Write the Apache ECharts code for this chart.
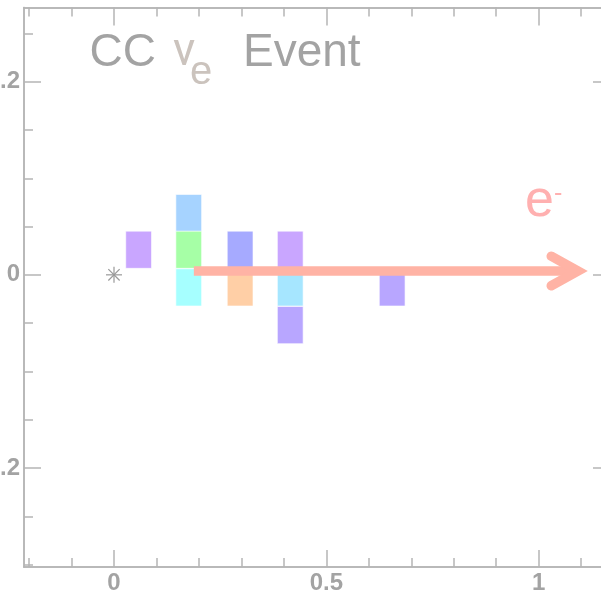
<!DOCTYPE html>
<html><head><meta charset="utf-8">
<script src="https://cdn.jsdelivr.net/npm/echarts@6/dist/echarts.min.js"></script>
<style>html,body{margin:0;padding:0;background:#fff;}#c{width:601px;height:595px;}</style>
</head><body><div id="c"></div>
<script>
// ---- data ----
const xRange = [-0.2119, 1.1679];
const yRange = [-0.3025, 0.2768];
const xMajorTicks = [0, 0.5, 1];
const xMinorTicks = [-0.2, -0.1, 0.1, 0.2, 0.3, 0.4, 0.6, 0.7, 0.8, 0.9, 1.1];
const yMajorTicks = [-0.2, 0, 0.2];
const yMinorTicks = [-0.3, -0.25, -0.15, -0.1, -0.05, 0.05, 0.1, 0.15, 0.25];
const cellX = [0.058, 0.176, 0.176, 0.176, 0.297, 0.297, 0.415, 0.415, 0.415, 0.655];
const cellY = [0.026, 0.064, 0.026, -0.013, 0.026, -0.013, 0.026, -0.013, -0.052, -0.013];
const cellColors = ['#c9a6ff', '#a6d3ff', '#a6ffa6', '#a6ffff', '#a6aaff', '#ffcfa6', '#c9a6ff', '#a6e6ff', '#b8a6ff', '#b8a6ff'];
const cellWidth = 0.0607;
const cellHeight = 0.0385;
const vertex = [0, 0];
const arrowTail = [0.188, 0.004];
const arrowTip = [1.0925, 0.004];
const arrowHeadLength = 0.063;
const arrowHeadHalfWidth = 0.0153;

// ---- styles ----
const axisGray = '#b5b5b5';
const labelGray = '#a3a3a3';
const arrowColor = '#ffb3a5';
const FONT = 'Liberation Sans';

function xAx(pos, ticks, len, labels) {
  return {
    type: 'value', position: pos, min: xRange[0], max: xRange[1],
    axisLine: { show: true, onZero: false, lineStyle: { color: axisGray, width: 1.5 } },
    axisTick: { show: true, inside: true, length: len, customValues: ticks, lineStyle: { color: axisGray, width: 1.5 } },
    axisLabel: labels ? { show: true, customValues: ticks, margin: 4, color: labelGray, fontSize: 24, fontWeight: 'bold', fontFamily: FONT, formatter: v => String(v) } : { show: false },
    splitLine: { show: false }
  };
}
function yAx(pos, ticks, len, labels) {
  return {
    type: 'value', position: pos, min: yRange[0], max: yRange[1],
    axisLine: { show: true, onZero: false, lineStyle: { color: axisGray, width: 1.5 } },
    axisTick: { show: true, inside: true, length: len, customValues: ticks, lineStyle: { color: axisGray, width: 1.5 } },
    axisLabel: labels ? { show: true, customValues: ticks, margin: 4, color: labelGray, fontSize: 24, fontWeight: 'bold', fontFamily: FONT, formatter: v => String(v) } : { show: false },
    splitLine: { show: false }
  };
}

const chart = echarts.init(document.getElementById('c'), null, { renderer: 'canvas' });
const cellData = cellX.map((x, i) => [x, cellY[i]]);

chart.setOption({
  animation: false,
  backgroundColor: '#ffffff',
  grid: { left: 24, right: -9, top: 7.5, bottom: 28, containLabel: false, outerBoundsMode: 'none' },
  xAxis: [
    xAx('bottom', xMajorTicks, 17, true),
    xAx('bottom', xMinorTicks, 9, false),
    xAx('top', xMajorTicks, 18, false),
    xAx('top', xMinorTicks, 9, false)
  ],
  yAxis: [
    yAx('left', yMajorTicks, 17, true),
    yAx('left', yMinorTicks, 9, false),
    yAx('right', yMajorTicks, 17, false),
    yAx('right', yMinorTicks, 9, false)
  ],
  graphic: [
    { type: 'text', x: 89.5, y: 53, z: 10, style: { text: 'CC', font: '46px "Liberation Sans"', fill: '#a3a3a3', verticalAlign: 'middle' } },
    { type: 'text', x: 173, y: 53, z: 10, style: { text: 'ν', font: '46px Roboto', fill: '#cbc3bd', verticalAlign: 'middle' } },
    { type: 'text', x: 190, y: 73, z: 10, style: { text: 'e', font: '40px "Liberation Sans"', fill: '#cbc3bd', verticalAlign: 'middle' } },
    { type: 'text', x: 243, y: 53, z: 10, style: { text: 'Event', font: '46px "Liberation Sans"', fill: '#a3a3a3', verticalAlign: 'middle' } },
    { type: 'text', x: 525, y: 202, z: 10, style: { text: 'e', font: '52px "Liberation Sans"', fill: '#ffb0b0', verticalAlign: 'middle' } },
    { type: 'text', x: 554, y: 194, z: 10, style: { text: '-', font: '25px "Liberation Sans"', fill: '#ffb0b0', verticalAlign: 'middle' } }
  ],
  series: [
    {
      type: 'custom', xAxisIndex: 0, yAxisIndex: 0, z: 2,
      data: cellData,
      renderItem: function (params, api) {
        const x = api.value(0), y = api.value(1);
        const p0 = api.coord([x - cellWidth / 2, y + cellHeight / 2]);
        const p1 = api.coord([x + cellWidth / 2, y - cellHeight / 2]);
        return {
          type: 'rect',
          shape: { x: p0[0], y: p0[1], width: p1[0] - p0[0], height: p1[1] - p0[1] },
          style: { fill: cellColors[params.dataIndex], stroke: 'rgba(255,255,255,0.6)', lineWidth: 1 }
        };
      }
    },
    {
      type: 'custom', xAxisIndex: 0, yAxisIndex: 0, z: 3,
      data: [vertex],
      renderItem: function (params, api) {
        const c = api.coord([api.value(0), api.value(1)]);
        const r = 8, children = [];
        for (let k = 0; k < 4; k++) {
          const a = k * Math.PI / 4;
          children.push({ type: 'line', shape: { x1: c[0] - r * Math.cos(a), y1: c[1] - r * Math.sin(a), x2: c[0] + r * Math.cos(a), y2: c[1] + r * Math.sin(a) }, style: { stroke: '#999999', lineWidth: 1.2 } });
        }
        return { type: 'group', children: children };
      }
    },
    {
      type: 'custom', xAxisIndex: 0, yAxisIndex: 0, z: 4,
      data: [[arrowTail[0], arrowTail[1], arrowTip[0], arrowTip[1]]],
      renderItem: function (params, api) {
        const tx = api.value(0), ty = api.value(1), hx = api.value(2), hy = api.value(3);
        const t = api.coord([tx, ty]);
        const h = api.coord([hx, hy]);
        const a1 = api.coord([hx - arrowHeadLength, hy + arrowHeadHalfWidth]);
        const a2 = api.coord([hx - arrowHeadLength, hy - arrowHeadHalfWidth]);
        return {
          type: 'group', children: [
            { type: 'line', shape: { x1: t[0], y1: t[1], x2: h[0] - 4, y2: h[1] }, style: { stroke: arrowColor, lineWidth: 9.5, lineCap: 'butt' } },
            { type: 'polyline', shape: { points: [a1, h, a2] }, style: { stroke: arrowColor, fill: null, lineWidth: 9.5, lineCap: 'round', lineJoin: 'miter', miterLimit: 10 } }
          ]
        };
      }
    }
  ]
});
</script>
</body></html>
